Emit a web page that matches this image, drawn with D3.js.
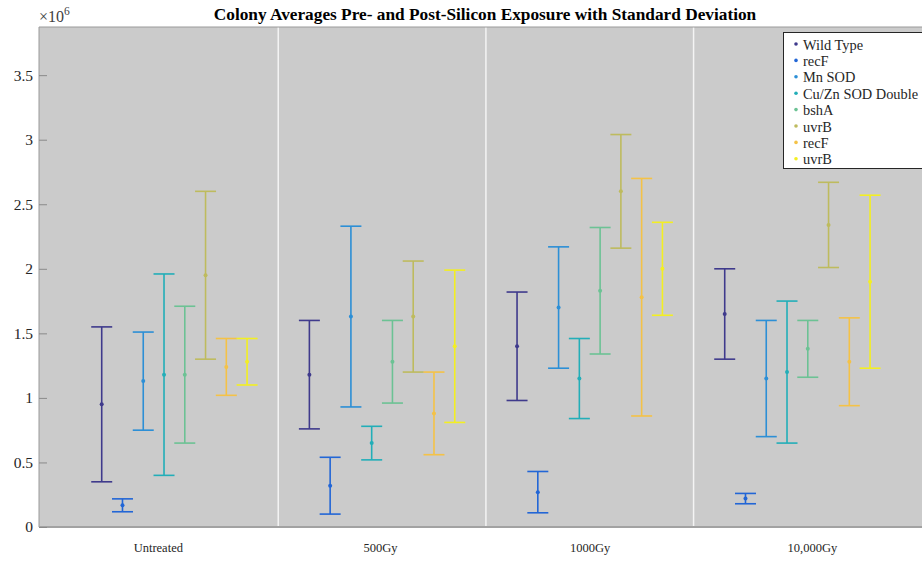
<!DOCTYPE html>
<html>
<head>
<meta charset="utf-8">
<script src="https://cdn.jsdelivr.net/npm/d3@7"></script>
<style>
  body { margin: 0; background: #fff; }
  svg text { font-family: "Liberation Serif", "Times New Roman", serif; }
</style>
</head>
<body>
<div id="chart"></div>
<script>
// groups along x (tick labels) and where MATLAB put their labels
const groups = ['Untreated', '500Gy', '1000Gy', '10,000Gy']
const labelPos = [0.92, 1.99, 3.0, 4.07]
const strains = ['Wild Type', 'recF', 'Mn SOD', 'Cu/Zn SOD Double', 'bshA', 'uvrB', 'recF', 'uvrB']
const colors = ['#3f3a8c', '#2266d6', '#2c8fd6', '#22aeb8', '#6cc294', '#bebb5e', '#f4c247', '#f3ef22']

// colony averages (x10^6), one row per strain, one value per group
const means = [
  [0.95, 1.18, 1.40, 1.65],
  [0.168, 0.32, 0.27, 0.22],
  [1.13, 1.63, 1.70, 1.15],
  [1.18, 0.65, 1.15, 1.20],
  [1.18, 1.28, 1.83, 1.38],
  [1.95, 1.63, 2.60, 2.34],
  [1.24, 0.88, 1.78, 1.28],
  [1.28, 1.40, 2.00, 1.90]
]
// standard deviations (x10^6)
const sds = [
  [0.60, 0.42, 0.42, 0.35],
  [0.05, 0.22, 0.16, 0.04],
  [0.38, 0.70, 0.47, 0.45],
  [0.78, 0.13, 0.31, 0.55],
  [0.53, 0.32, 0.49, 0.22],
  [0.65, 0.43, 0.44, 0.33],
  [0.22, 0.32, 0.92, 0.34],
  [0.18, 0.59, 0.36, 0.67]
]
const yTicks = [0, 0.5, 1, 1.5, 2, 2.5, 3, 3.5]
const separators = [1.5, 2.5, 3.5]

const width = 922
const height = 564
const pLeft = 39, pTop = 27, pRight = 922, pBottom = 527

const svg = d3.select('#chart')
  .append('svg')
  .attr('width', width)
  .attr('height', height)

const x = d3.scaleLinear().domain([0.348, 4.6]).range([pLeft, pRight])
const y = d3.scaleLinear().domain([0, 3.873]).range([pBottom, pTop])

// plot background
svg.append('rect')
  .attr('x', pLeft).attr('y', pTop)
  .attr('width', pRight - pLeft).attr('height', pBottom - pTop)
  .attr('fill', '#cbcbcb')

// white separators between groups
svg.selectAll('.sep')
  .data(separators)
  .enter()
  .append('line')
  .attr('class', 'sep')
  .attr('x1', d => x(d)).attr('x2', d => x(d))
  .attr('y1', pTop).attr('y2', pBottom)
  .attr('stroke', '#f4f4f4')
  .attr('stroke-width', 1.5)

// frame
svg.append('path')
  .attr('d', `M${pRight},${pTop}H${pLeft}V${pBottom}H${pRight}`)
  .attr('fill', 'none')
  .attr('stroke', '#9a9a9a')
  .attr('stroke-width', 1)
svg.append('line')
  .attr('x1', pLeft).attr('x2', pRight)
  .attr('y1', pBottom).attr('y2', pBottom)
  .attr('stroke', '#a2a2a2')
  .attr('stroke-width', 2)

// y axis, ticks inward
const yAxis = d3.axisLeft(y)
  .tickValues(yTicks)
  .tickSize(-8)
  .tickPadding(6)
  .tickFormat(d => d3.format('~g')(d))
const yg = svg.append('g').attr('transform', `translate(${pLeft},0)`).call(yAxis)
yg.select('.domain').remove()
yg.selectAll('line').attr('stroke', '#8a8a8a')
yg.selectAll('text')
  .attr('fill', '#262626')
  .style('font-size', '15.5px')
  .style('font-family', '"Liberation Serif", serif')

// x axis labels
const xAxis = d3.axisBottom(x)
  .tickValues(labelPos)
  .tickSize(0)
  .tickPadding(16)
  .tickFormat((d, i) => groups[i])
const xg = svg.append('g').attr('transform', `translate(0,${pBottom})`).call(xAxis)
xg.select('.domain').remove()
xg.selectAll('text')
  .attr('fill', '#262626')
  .style('font-size', '12.5px')
  .style('font-family', '"Liberation Serif", serif')

// error bars
const offset = i => (i - 3.5) * 0.1
const capHalf = 10.5
const bars = []
strains.forEach((s, i) => {
  groups.forEach((g, j) => {
    bars.push({i, j, m: means[i][j], sd: sds[i][j], xv: j + 1 + offset(i)})
  })
})

const eb = svg.append('g').selectAll('g')
  .data(bars)
  .enter()
  .append('g')
  .attr('stroke', d => colors[d.i])
  .attr('fill', d => colors[d.i])
  .attr('stroke-width', 1.6)

eb.append('line')
  .attr('x1', d => x(d.xv)).attr('x2', d => x(d.xv))
  .attr('y1', d => y(d.m + d.sd)).attr('y2', d => y(d.m - d.sd))
eb.append('line')
  .attr('x1', d => x(d.xv) - capHalf).attr('x2', d => x(d.xv) + capHalf)
  .attr('y1', d => y(d.m + d.sd)).attr('y2', d => y(d.m + d.sd))
eb.append('line')
  .attr('x1', d => x(d.xv) - capHalf).attr('x2', d => x(d.xv) + capHalf)
  .attr('y1', d => y(d.m - d.sd)).attr('y2', d => y(d.m - d.sd))
eb.append('circle')
  .attr('cx', d => x(d.xv)).attr('cy', d => y(d.m))
  .attr('r', 2)
  .attr('stroke', 'none')

// exponent label
const expo = svg.append('text')
  .attr('x', 39).attr('y', 22)
  .attr('fill', '#404040')
  .style('font-size', '16px')
expo.append('tspan').text('\u00d710')
expo.append('tspan').attr('dy', -7).style('font-size', '11.5px').text('6')

// title
svg.append('text')
  .attr('x', 485).attr('y', 20)
  .attr('text-anchor', 'middle')
  .attr('fill', '#000')
  .style('font-size', '17.3px')
  .style('font-weight', 'bold')
  .text('Colony Averages Pre- and Post-Silicon Exposure with Standard Deviation')

// legend
const lg = svg.append('g').attr('transform', 'translate(783,32)')
lg.append('rect')
  .attr('x', 0.5).attr('y', 0.5)
  .attr('width', 150).attr('height', 136)
  .attr('fill', '#fff')
  .attr('stroke', '#262626')
  .attr('stroke-width', 1)
const li = lg.selectAll('.li')
  .data(strains)
  .enter()
  .append('g')
  .attr('class', 'li')
  .attr('transform', (d, i) => `translate(0,${13 + i * 16.4})`)
li.append('circle')
  .attr('cx', 13).attr('cy', -1)
  .attr('r', 1.8)
  .attr('fill', (d, i) => colors[i])
li.append('text')
  .attr('x', 20).attr('y', 4.5)
  .attr('fill', '#262626')
  .style('font-size', '14.4px')
  .text(d => d)
</script>
</body>
</html>
